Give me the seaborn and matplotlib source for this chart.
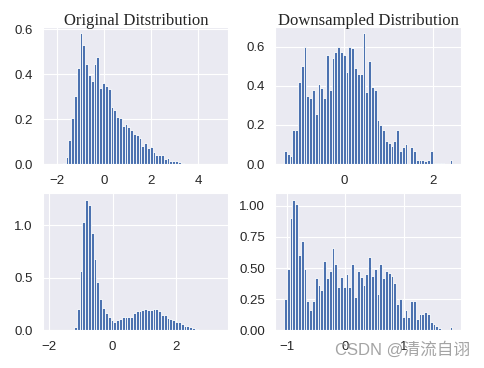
import matplotlib
matplotlib.use('Agg')
import matplotlib.pyplot as plt
import numpy as np
import pandas as pd
import seaborn as sns

# density heights of 60-bin histograms
orig1_range = (-2.24, 4.92)
orig1_heights = [0.001, 0.0, 0.001, 0.002, 0.006, 0.032, 0.107, 0.203, 0.302, 0.428,
                 0.581, 0.529, 0.447, 0.398, 0.369, 0.443, 0.477, 0.339, 0.361, 0.347,
                 0.332, 0.252, 0.240, 0.210, 0.207, 0.169, 0.178, 0.163, 0.151, 0.136,
                 0.129, 0.117, 0.080, 0.095, 0.070, 0.074, 0.052, 0.040, 0.040, 0.040,
                 0.021, 0.028, 0.013, 0.013, 0.014, 0.009, 0.004, 0.002, 0.002, 0.001,
                 0.001, 0.0, 0.001, 0.0, 0.0, 0.001, 0.0, 0.0, 0.0, 0.001]

down1_range = (-1.35, 2.44)
down1_heights = [0.065, 0.051, 0.039, 0.175, 0.175, 0.422, 0.503, 0.600, 0.350, 0.337,
                 0.379, 0.255, 0.408, 0.391, 0.340, 0.558, 0.380, 0.540, 0.571, 0.600,
                 0.571, 0.558, 0.473, 0.600, 0.595, 0.490, 0.459, 0.459, 0.668, 0.366,
                 0.529, 0.395, 0.380, 0.226, 0.200, 0.172, 0.119, 0.107, 0.094, 0.116,
                 0.175, 0.065, 0.090, 0.104, 0.0, 0.090, 0.065, 0.022, 0.022, 0.022,
                 0.014, 0.022, 0.065, 0.0, 0.008, 0.008, 0.008, 0.0, 0.0, 0.022]

orig2_range = (-1.93, 3.39)
orig2_heights = [0.002, 0.0, 0.0, 0.0, 0.0, 0.0, 0.0, 0.001, 0.032, 0.199,
                 0.561, 1.025, 1.240, 1.190, 0.921, 0.678, 0.464, 0.300, 0.211, 0.167,
                 0.126, 0.100, 0.085, 0.095, 0.110, 0.123, 0.123, 0.123, 0.125, 0.167,
                 0.183, 0.189, 0.196, 0.199, 0.192, 0.196, 0.205, 0.208, 0.189, 0.151,
                 0.145, 0.117, 0.110, 0.095, 0.082, 0.079, 0.057, 0.041, 0.038, 0.032,
                 0.025, 0.016, 0.009, 0.004, 0.003, 0.002, 0.001, 0.001, 0.0, 0.001]

down2_range = (-1.05, 1.83)
down2_heights = [0.256, 0.496, 0.901, 1.048, 1.013, 0.608, 0.720, 0.496, 0.240, 0.163,
                 0.240, 0.421, 0.365, 0.328, 0.555, 0.421, 0.475, 0.661, 0.533, 0.347,
                 0.427, 0.347, 0.456, 0.347, 0.533, 0.269, 0.480, 0.427, 0.363, 0.456,
                 0.589, 0.440, 0.493, 0.293, 0.536, 0.421, 0.480, 0.461, 0.440, 0.381,
                 0.216, 0.256, 0.107, 0.163, 0.107, 0.240, 0.240, 0.088, 0.128, 0.128,
                 0.147, 0.128, 0.069, 0.053, 0.035, 0.016, 0.005, 0.0, 0.0, 0.029]

titles = ['Original Ditstribution', 'Downsampled Distribution']
xticks = [[-2, 0, 2, 4], [0, 2], [-2, 0, 2], [-1, 0, 1]]
yticks = [[0.0, 0.2, 0.4, 0.6], [0.0, 0.2, 0.4, 0.6], [0.0, 0.5, 1.0],
          [0.0, 0.25, 0.5, 0.75, 1.0]]
ytick_fmt = ['{:.1f}', '{:.1f}', '{:.1f}', '{:.2f}']

sns.set_style('darkgrid')
plt.rcParams['font.family'] = ['Liberation Sans', 'Noto Sans CJK SC']

fig, axes = plt.subplots(2, 2, figsize=(4.85, 3.68), dpi=100)
fig.subplots_adjust(left=0.089, right=0.95, top=0.927, bottom=0.102,
                    wspace=0.254, hspace=0.212)

panels = [(orig1_range, orig1_heights), (down1_range, down1_heights),
          (orig2_range, orig2_heights), (down2_range, down2_heights)]

for i, (ax, (rng, heights)) in enumerate(zip(axes.flat, panels)):
    n = len(heights)
    width = (rng[1] - rng[0]) / n
    df = pd.DataFrame({'x': rng[0] + width * (np.arange(n) + 0.5),
                       'w': heights})
    sns.histplot(data=df, x='x', weights='w', bins=n, binrange=rng, stat='count',
                 color='#4C72B0', alpha=1, edgecolor='white', linewidth=0.6, ax=ax)
    ax.set_xlabel('')
    ax.set_ylabel('')
    ax.set_xticks(xticks[i])
    ax.set_yticks(yticks[i])
    ax.set_yticklabels([ytick_fmt[i].format(v) for v in yticks[i]])
    ax.tick_params(labelsize=9.5, pad=4)
    if i < 2:
        ax.set_title(titles[i], fontsize=12, family='Liberation Serif', pad=1)

fig.text(0.969, 0.035, 'CSDN @清流自诩', ha='right', va='baseline', fontsize=12,
         color='#9a9a9a', alpha=0.9)

plt.savefig('out.png', dpi=100)
plt.close()
